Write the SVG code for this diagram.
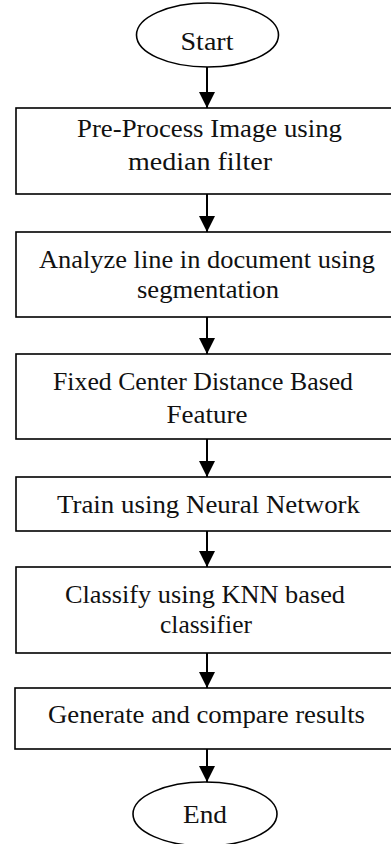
<svg xmlns="http://www.w3.org/2000/svg" width="391" height="844" viewBox="0 0 391 844">
<style>
  .box { fill: #fff; stroke: #000; stroke-width: 1.6; }
  .term { fill: #fff; stroke: #000; stroke-width: 1.6; }
  .lbl { font-family: "Liberation Serif", "Times New Roman", serif; font-size: 25.5px; fill: #111; text-anchor: middle; }
  .conn { stroke: #000; stroke-width: 2; fill: none; marker-end: url(#ah); }
</style>
<defs>
  <marker id="ah" markerUnits="userSpaceOnUse" markerWidth="18" markerHeight="16" refX="16" refY="8" orient="auto">
    <path d="M0,0 L16,8 L0,16 Z" fill="#000"/>
  </marker>
</defs>
<rect width="391" height="844" fill="#fff"/>
<g id="connectors">
  <line class="conn" x1="207" y1="67" x2="207" y2="108"/>
  <line class="conn" x1="207" y1="194" x2="207" y2="232"/>
  <line class="conn" x1="207" y1="317" x2="207" y2="354"/>
  <line class="conn" x1="207" y1="439" x2="207" y2="477"/>
  <line class="conn" x1="207" y1="531" x2="207" y2="567"/>
  <line class="conn" x1="207" y1="653" x2="207" y2="688"/>
  <line class="conn" x1="207" y1="749" x2="207" y2="782"/>
</g>
<g id="start">
  <ellipse class="term" cx="207.5" cy="35" rx="71" ry="32"/>
  <text class="lbl" x="207" y="50" textLength="53" lengthAdjust="spacingAndGlyphs">Start</text>
</g>
<g id="preprocess">
  <rect class="box" x="16" y="108" width="382" height="86"/>
  <text class="lbl" x="209.5" y="137" textLength="265" lengthAdjust="spacingAndGlyphs">Pre-Process Image using</text>
  <text class="lbl" x="200" y="170" textLength="144" lengthAdjust="spacingAndGlyphs">median filter</text>
</g>
<g id="analyze">
  <rect class="box" x="16" y="232" width="382" height="85"/>
  <text class="lbl" x="207" y="268" textLength="336" lengthAdjust="spacingAndGlyphs">Analyze line in document using</text>
  <text class="lbl" x="208" y="298" textLength="142" lengthAdjust="spacingAndGlyphs">segmentation</text>
</g>
<g id="feature">
  <rect class="box" x="16" y="354" width="382" height="85"/>
  <text class="lbl" x="203" y="390" textLength="300" lengthAdjust="spacingAndGlyphs">Fixed Center Distance Based</text>
  <text class="lbl" x="207" y="423" textLength="81" lengthAdjust="spacingAndGlyphs">Feature</text>
</g>
<g id="train">
  <rect class="box" x="16" y="477" width="382" height="54"/>
  <text class="lbl" x="208.5" y="513" textLength="303" lengthAdjust="spacingAndGlyphs">Train using Neural Network</text>
</g>
<g id="classify">
  <rect class="box" x="16" y="567" width="382" height="86"/>
  <text class="lbl" x="205" y="603" textLength="280" lengthAdjust="spacingAndGlyphs">Classify using KNN based</text>
  <text class="lbl" x="206" y="633" textLength="92" lengthAdjust="spacingAndGlyphs">classifier</text>
</g>
<g id="generate">
  <rect class="box" x="15" y="688" width="383" height="61"/>
  <text class="lbl" x="206.5" y="723" textLength="317" lengthAdjust="spacingAndGlyphs">Generate and compare results</text>
</g>
<g id="end">
  <ellipse class="term" cx="205" cy="814" rx="72" ry="32"/>
  <text class="lbl" x="205" y="823" textLength="44" lengthAdjust="spacingAndGlyphs">End</text>
</g>
</svg>
